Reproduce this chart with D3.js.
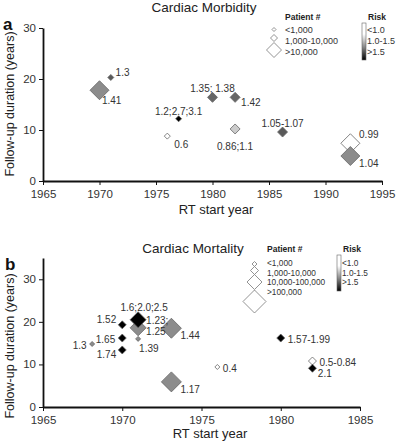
<!DOCTYPE html>
<html>
<head>
<meta charset="utf-8" />
<title>Cardiac morbidity / mortality</title>
<script src="https://d3js.org/d3.v7.min.js"></script>
<style>
  body { margin: 0; background: #fff; }
  text { font-family: "Liberation Sans", Arial, sans-serif; }
</style>
</head>
<body>
<svg id="svg1" width="397" height="444"></svg>
<script>
// panel a - cardiac morbidity
var morbYear     = [1971, 1970, 1977, 1976, 1980, 1982, 1982, 1986.2, 1992.2, 1992.2];
var morbFollowUp = [20.3, 17.8, 12.2, 8.8, 16.4, 16.4, 10.2, 9.6, 7.4, 4.9];
var morbLabel    = ["1.3", "1.41", "1.2;2.7;3.1", "0.6", "1.35; 1.38", "1.42", "0.86;1.1", "1.05-1.07", "0.99", "1.04"];
var morbPatients = [0, 2, 0, 0, 1, 1, 1, 1, 2, 2];   // patient # class
var morbRisk     = [0.65, 0.45, 1, 0, 0.6, 0.6, 0.2, 0.65, 0, 0.45]; // grey level of risk
var morbPlace    = ["ne", "sse", "n", "se2", "n", "se", "s", "n", "ne", "se"];
var morbXTicks   = [1965, 1970, 1975, 1980, 1985, 1990, 1995];
var morbYTicks   = [0, 10, 20, 30];
var morbSizeLabels = ["<1,000", "1,000-10,000", ">10,000"];

// panel b - cardiac mortality
var mortYear     = [1968.1, 1970, 1970, 1970, 1971, 1971, 1971, 1973.1, 1973.1, 1976, 1980, 1982, 1982];
var mortFollowUp = [14.8, 19.3, 16.2, 13.4, 18.6, 20.5, 16.0, 18.5, 5.9, 9.4, 16.2, 10.8, 9.1];
var mortLabel    = ["1.3", "1.52", "1.65", "1.74", "1.23;\n1.25", "1.6;2.0;2.5", "1.39", "1.44", "1.17", "0.4", "1.57-1.99", "0.5-0.84", "2.1"];
var mortPatients = [0, 1, 1, 1, 2, 2, 0, 3, 3, 0, 1, 1, 1];
var mortRisk     = [0.45, 1, 1, 1, 0.45, 1, 0.45, 0.45, 0.45, 0, 1, 0, 1];
var mortPlace    = ["w", "nw", "w", "sw", "e2", "nr", "sse", "se", "se", "e", "e", "e", "se"];
var mortXTicks   = [1965, 1970, 1975, 1980, 1985];
var mortYTicks   = [0, 10, 20, 30];
var mortSizeLabels = ["<1,000", "1,000-10,000", "10,000-100,000", ">100,000"];

var riskLabels = ["<1.0", "1.0-1.5", ">1.5"];

var svg = d3.select("#svg1");
var shade = d3.scaleLinear().domain([0, 1]).range(["#ffffff", "#000000"]);

// gradient for the risk bar
var grad = svg.append("defs").append("linearGradient")
    .attr("id", "riskGrad").attr("x1", 0).attr("y1", 0).attr("x2", 0).attr("y2", 1);
grad.append("stop").attr("offset", "0%").attr("stop-color", "#fff");
grad.append("stop").attr("offset", "30%").attr("stop-color", "#fff");
grad.append("stop").attr("offset", "65%").attr("stop-color", "#888");
grad.append("stop").attr("offset", "100%").attr("stop-color", "#000");

function diamond(w) {
  var r = w / 2;
  return "M0," + (-r) + "L" + r + ",0L0," + r + "L" + (-r) + ",0Z";
}

// where the value label sits around a marker of half-size r
function place(code, r) {
  switch (code) {
    case "ne":  return [r * 0.6 + 3, -r * 0.6, "start"];
    case "e":   return [r + 3, 5, "start"];
    case "e2":  return [r, -4, "start"];
    case "se":  return [r * 0.6 + 3, r * 0.4 + 7, "start"];
    case "se2": return [r + 4, r + 9, "start"];
    case "sse": return [r * 0.2 + 0.5, 13.5, "start"];
    case "s":   return [0, r + 16, "middle"];
    case "n":   return [0, -r - 0.5, "middle"];
    case "nr":  return [6, -r - 0.5, "middle"];
    case "w":   return [-r - 3, 5, "end"];
    case "nw":  return [-r - 2, -2, "end"];
    case "sw":  return [-r - 2, 8, "end"];
  }
  return [0, 0, "start"];
}

function panel(cfg) {
  var x = d3.scaleLinear().domain(cfg.xDomain).range(cfg.xRange);
  var y = d3.scaleLinear().domain(cfg.yDomain).range(cfg.yRange);
  var size = d3.scaleOrdinal().domain(d3.range(cfg.sizes.length)).range(cfg.sizes);
  var g = svg.append("g");

  var xa = g.append("g").attr("transform", "translate(0," + cfg.yRange[0] + ")")
    .call(d3.axisBottom(x).tickValues(cfg.xTicks).tickFormat(d3.format("d")).tickSize(4).tickSizeOuter(0));
  var ya = g.append("g").attr("transform", "translate(" + cfg.xRange[0] + ",0)")
    .call(d3.axisLeft(y).tickValues(cfg.yTicks).tickSize(4).tickSizeOuter(0));
  [xa, ya].forEach(function(a) {
    a.select(".domain").attr("stroke", "#111").attr("stroke-width", 1.8);
    a.selectAll(".tick line").attr("stroke", "#111");
    a.selectAll(".tick text").attr("font-size", 11.5).attr("fill", "#333")
      .style("font-family", "'Liberation Sans', Arial, sans-serif");
  });
  xa.selectAll(".tick text").attr("y", 8.5);
  ya.selectAll(".tick text").attr("dy", "0.28em");

  var data = cfg.year.map(function(d, i) {
    return { x: d, y: cfg.follow[i], label: cfg.label[i], cls: cfg.patients[i], risk: cfg.risk[i], pos: cfg.place[i] };
  });

  g.selectAll("path.pt").data(data).enter().append("path")
    .attr("class", "pt")
    .attr("transform", function(d) { return "translate(" + x(d.x) + "," + y(d.y) + ")"; })
    .attr("d", function(d) { return diamond(size(d.cls)); })
    .attr("fill", function(d) { return shade(d.risk); })
    .attr("stroke", "#666").attr("stroke-width", 0.8);

  g.selectAll("text.lbl").data(data).enter().append("text")
    .attr("class", "lbl")
    .attr("font-size", 10).attr("fill", "#333")
    .each(function(d) {
      var p = place(d.pos, size(d.cls) / 2);
      var t = d3.select(this).attr("text-anchor", p[2]);
      d.label.split("\n").forEach(function(s, k) {
        t.append("tspan").attr("x", x(d.x) + p[0]).attr("y", y(d.y) + p[1] + k * 11).text(s);
      });
    });

  // titles
  g.append("text").attr("x", cfg.titleX).attr("y", cfg.titleY).attr("text-anchor", "middle")
    .attr("font-size", 13.5).attr("fill", "#222").text(cfg.title);
  g.append("text").attr("x", cfg.letterX).attr("y", cfg.letterY).attr("font-size", 17)
    .attr("font-weight", "bold").attr("fill", "#111").text(cfg.letter);
  g.append("text").attr("transform", "translate(" + 14 + "," + cfg.yLabelY + ") rotate(-90)")
    .attr("text-anchor", "middle").attr("font-size", 12.5).attr("fill", "#222")
    .text("Follow-up duration (years)");
  g.append("text").attr("x", cfg.xLabelX).attr("y", cfg.xLabelY).attr("text-anchor", "middle")
    .attr("font-size", 13).attr("fill", "#222").text("RT start year");

  // patient # legend
  var L = cfg.legend;
  g.append("text").attr("x", L.px).attr("y", L.top).attr("font-size", 8.5).attr("font-weight", "bold")
    .attr("fill", "#222").text("Patient #");
  L.legendSizes.forEach(function(w, i) {
    g.append("path").attr("transform", "translate(" + L.dx + "," + L.dy[i] + ")")
      .attr("d", diamond(w)).attr("fill", "#fff").attr("stroke", "#777").attr("stroke-width", 0.8);
    g.append("text").attr("x", L.px).attr("y", L.ty[i]).attr("font-size", L.fs).attr("fill", "#333")
      .text(cfg.sizeLabels[i]);
  });

  // risk legend
  g.append("text").attr("x", L.rx + 6).attr("y", L.top).attr("font-size", 8.5).attr("font-weight", "bold")
    .attr("fill", "#222").text("Risk");
  g.append("rect").attr("x", L.rx).attr("y", L.barTop).attr("width", 4).attr("height", L.barH)
    .attr("fill", "url(#riskGrad)").attr("stroke", "#666").attr("stroke-width", 0.6);
  riskLabels.forEach(function(s, i) {
    g.append("text").attr("x", L.rx + 5).attr("y", L.ty[i]).attr("font-size", L.fs).attr("fill", "#333").text(s);
  });
}

panel({
  xDomain: [1965, 1995], xRange: [43, 382], yDomain: [0, 30], yRange: [181, 28],
  xTicks: morbXTicks, yTicks: morbYTicks, sizes: [6, 10, 19],
  year: morbYear, follow: morbFollowUp, label: morbLabel, patients: morbPatients,
  risk: morbRisk, place: morbPlace, sizeLabels: morbSizeLabels,
  title: "Cardiac Morbidity", titleX: 204, titleY: 12, letter: "a", letterX: 3, letterY: 30,
  yLabelY: 104, xLabelX: 216, xLabelY: 214,
  legend: { px: 285, top: 20, dx: 274, dy: [29.5, 38, 50], legendSizes: [4, 7, 15],
            ty: [33, 44, 54.5], rx: 362, barTop: 23, barH: 37, fs: 9 }
});

panel({
  xDomain: [1965, 1985], xRange: [43, 360], yDomain: [0, 35], yRange: [407, 258],
  xTicks: mortXTicks, yTicks: mortYTicks, sizes: [5, 8, 16, 20],
  year: mortYear, follow: mortFollowUp, label: mortLabel, patients: mortPatients,
  risk: mortRisk, place: mortPlace, sizeLabels: mortSizeLabels,
  title: "Cardiac Mortality", titleX: 193, titleY: 253, letter: "b", letterX: 5, letterY: 270,
  yLabelY: 346, xLabelX: 210, xLabelY: 438,
  legend: { px: 267, top: 252, dx: 254.5, dy: [264, 270.5, 282, 301.5], legendSizes: [5, 8, 15, 23],
            ty: [266, 275.5, 285, 294.5], rx: 337, barTop: 255, barH: 36, fs: 8.3 }
});
</script>
</body>
</html>
